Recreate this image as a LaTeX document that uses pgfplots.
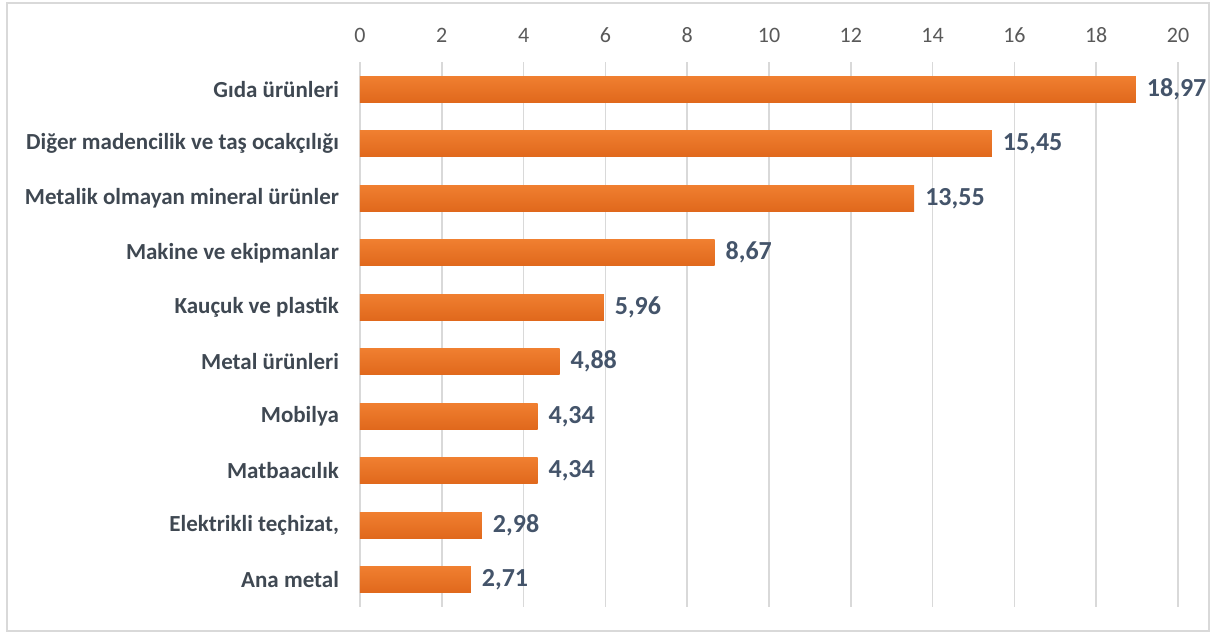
\documentclass[border=0pt]{standalone}
\usepackage{pgfplots}
\pgfplotsset{compat=1.18}
\usepackage{pgfplotstable}
\usepackage{fontspec}
\setmainfont{Carlito}
\definecolor{barTop}{HTML}{F07F30}
\definecolor{barMid}{HTML}{F68C42}
\definecolor{barBot}{HTML}{E0681C}
\definecolor{valCol}{HTML}{44546A}
\definecolor{catCol}{HTML}{3F4852}
\definecolor{tickCol}{HTML}{595959}
\definecolor{gridCol}{HTML}{D9D9D9}

% pay, kategori sırası yukarıdan aşağıya
\pgfplotstableread{
pos val label
0 18.97 18,97
1 15.45 15,45
2 13.55 13,55
3 8.67 8,67
4 5.96 5,96
5 4.88 4,88
6 4.34 4,34
7 4.34 4,34
8 2.98 2,98
9 2.71 2,71
}\veri

\begin{document}
\begin{tikzpicture}
\useasboundingbox (-180pt,-13pt) rectangle (425pt,303.5pt);
\draw[gridCol, line width=0.8pt] (-176.5pt,-12pt) rectangle (424.5pt,302pt);
\begin{axis}[
  at={(0,0)}, anchor=south west,
  scale only axis,
  width=409pt, height=272.5pt,
  xmin=0, xmax=20, xtick={0,2,...,20},
  ymin=-0.5, ymax=9.5, y dir=reverse,
  ytick={0,...,9},
  yticklabels={Gıda ürünleri,Diğer madencilik ve taş ocakçılığı,Metalik olmayan mineral ürünler,Makine ve ekipmanlar,Kauçuk ve plastik,Metal ürünleri,Mobilya,Matbaacılık,{Elektrikli teçhizat,},Ana metal},
  xticklabel pos=right,
  major tick length=0pt,
  axis line style={draw=none},
  xmajorgrids, grid style={gridCol, line width=0.8pt},
  /pgf/number format/assume math mode=true,
  xticklabel style={font=\fontsize{11}{13}\selectfont, text=tickCol, yshift=6pt},
  yticklabel style={font=\bfseries\fontsize{11.5}{13}\selectfont, text=catCol, xshift=-7pt},
  xbar, bar width=13pt, bar shift=0pt,
  nodes near coords,
  point meta=explicit symbolic,
  nodes near coords style={font=\bfseries\fontsize{13}{15}\selectfont, text=valCol, anchor=west, xshift=2pt},
  unbounded coords=discard,
  clip=false,
]
% her çubuk ayrı çizilir, böylece geçiş her çubukta ayrı olur
\pgfplotsinvokeforeach{0,...,9}{
  \addplot[draw=none, top color=barTop, middle color=barMid, bottom color=barBot,
    y filter/.expression={abs(y-#1)<0.1 ? y : nan}]
    table[x=val, y=pos, meta=label] {\veri};
}
\end{axis}
\end{tikzpicture}
\end{document}
